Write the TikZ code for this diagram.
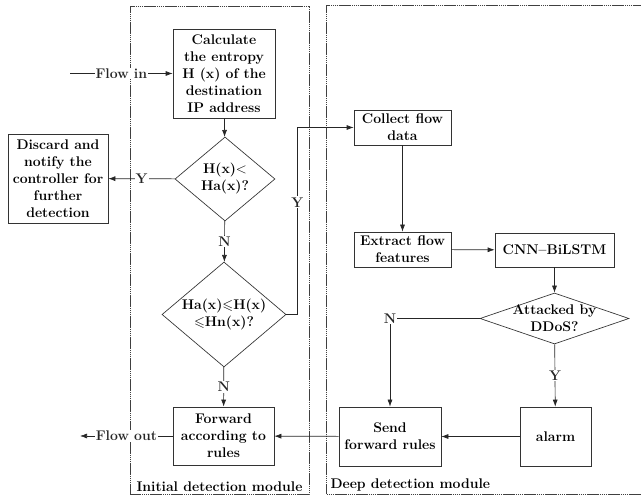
\documentclass[tikz,border=0pt]{standalone}
\usepackage{amsmath,amssymb}
\usepackage{tikz}
\usetikzlibrary{shapes.geometric,arrows.meta}

\begin{document}
\begin{tikzpicture}[x=1pt,y=1pt,
  every node/.style={font=\bfseries\fontsize{14}{17}\selectfont},
  box/.style={draw=black!80,fill=white,align=center,inner sep=1pt,line width=0.67pt},
  decision/.style={draw=black!80,fill=white,shape=diamond,align=center,inner sep=0pt,line width=0.67pt},
  tag/.style={fill=white,inner sep=1pt},
  module/.style={draw=black!75,line width=0.67pt,dash pattern=on 1.6pt off 0.5pt},
  arr/.style={-{Latex[length=7pt,width=5pt]},black!85,line width=0.67pt}]
\useasboundingbox (0,0) rectangle (641,498);

% module frames
\draw[module] (130,4) rectangle (309,492);
\draw[module] (645,493) -- (326,493) -- (326,4) -- (645,4);
\node[anchor=south] (initlbl) at (219.5,3) {Initial detection module};
\node[anchor=south west] (deeplbl) at (327,3) {Deep detection module};

% initial module
\node[box,minimum width=102,minimum height=89] (calc) at (224,424.5)
  {Calculate\\the entropy\\H (x) of the\\destination\\IP address};
\node[decision,minimum width=100,minimum height=84,aspect=1.2] (d1) at (225,319)
  {H(x)$<$\\Ha(x)?};
\node[box,minimum width=100,minimum height=89] (discard) at (58,319.5)
  {Discard and\\notify the\\controller for\\further\\detection};
\node[decision,minimum width=124,minimum height=105,aspect=1.18,inner sep=-7pt] (d2) at (224,183.5)
  {Ha(x)$\leqslant$H(x)\\$\leqslant$Hn(x)?};
\node[box,minimum width=101,minimum height=58] (fwd) at (223.5,62)
  {Forward\\according to\\rules};
\coordinate (in) at (70,424.5);
\coordinate (out) at (80,62);

% deep module
\node[box,minimum width=97,minimum height=35] (collect) at (402.5,370.5)
  {Collect flow\\data};
\node[box,minimum width=97,minimum height=35] (extract) at (402.5,248.5)
  {Extract flow\\features};
\node[box,minimum width=119,minimum height=34] (cnn) at (554.5,248)
  {CNN--BiLSTM};
\node[decision,minimum width=149,minimum height=51,aspect=2.9,inner sep=-10pt] (d3) at (554.5,179.5)
  {Attacked by\\DDoS?};
\node[box,minimum width=71,minimum height=59] (alarm) at (555.5,61.5) {alarm};
\node[box,minimum width=102,minimum height=59] (send) at (390,61.5)
  {Send\\forward rules};

% connectors
\draw[arr] (in) -- node[tag] {Flow in} (calc.west);
\draw[arr] (calc) -- (d1);
\draw[arr] (d1) -- node[tag] {Y} (discard);
\draw[arr] (d1) -- node[tag] {N} (d2);
\draw[arr] (d2) -- node[tag] {N} (fwd);
\draw[arr] (d2.east) -- ++(11,0) |- node[tag,pos=0.3] {Y} (collect.west);
\draw[arr] (fwd.west) -- node[tag] {Flow out} (out);
\draw[arr] (collect) -- (extract);
\draw[arr] (extract) -- (cnn);
\draw[arr] (cnn) -- (d3);
\draw[arr] (d3.west) -| node[tag,pos=0.5] {N} (send.north);
\draw[arr] (d3) -- node[tag] {Y} (alarm);
\draw[arr] (alarm) -- (send);
\draw[arr] (send) -- (fwd);
\end{tikzpicture}
\end{document}
